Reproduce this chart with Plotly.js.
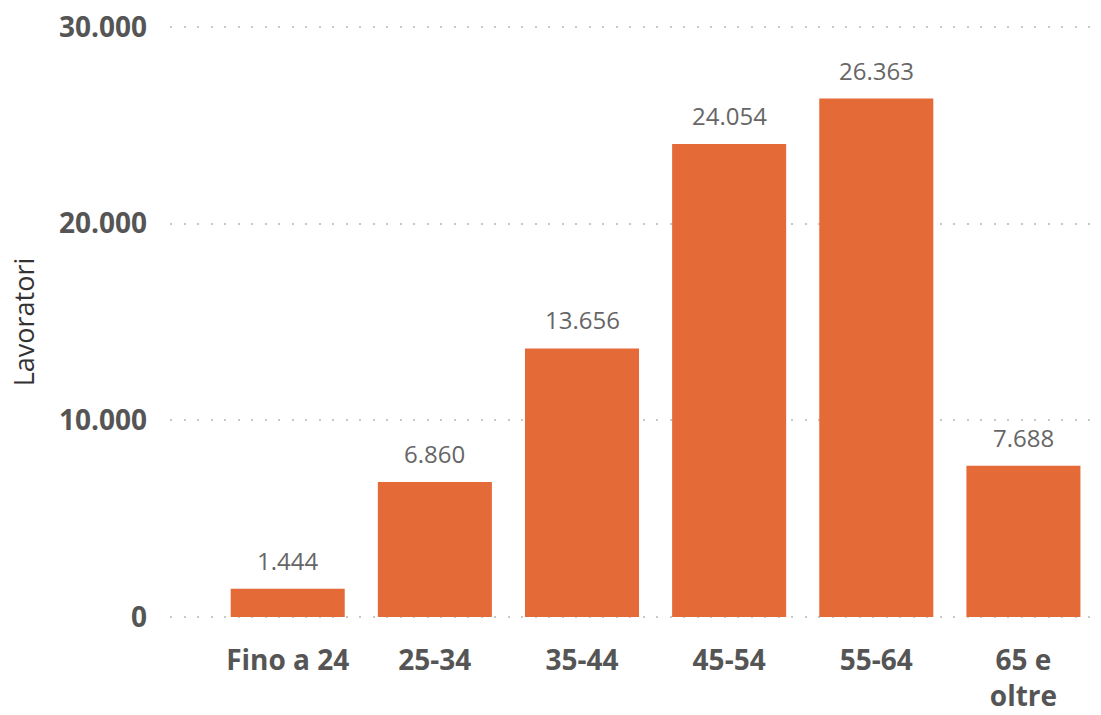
<!DOCTYPE html>
<html><head><meta charset="utf-8">
<script src="https://cdn.plot.ly/plotly-3.0.1.min.js"></script>
<style>body{margin:0;background:#fff}#c{width:1101px;height:715px}</style>
</head><body><div id="c"></div>
<script>
const categories = ["Fino a 24", "25-34", "35-44", "45-54", "55-64", "65 e<br>oltre"];
const lavoratori = [1444, 6860, 13656, 24054, 26363, 7688];
const yTicks = [0, 10000, 20000, 30000];
const yTickLabels = ["0", "10.000", "20.000", "30.000"];

const trace = {
  type: "bar",
  x: categories,
  y: lavoratori,
  marker: {color: "#E46A38"},
  hoverinfo: "none"
};

const annotations = categories.map((c, i) => ({
  x: c, y: lavoratori[i], xref: "x", yref: "y",
  text: lavoratori[i].toLocaleString("it-IT"),
  showarrow: false, yanchor: "bottom", yshift: 10,
  font: {family: "Open Sans, sans-serif", size: 24, color: "#666666"}
}));

const layout = {
  width: 1101, height: 715,
  margin: {l: 170, r: 4, t: 25, b: 96},
  paper_bgcolor: "#fff", plot_bgcolor: "#fff",
  separators: ",.",
  bargap: 0.225,
  showlegend: false,
  annotations: annotations,
  xaxis: {
    range: [-0.8, 5.5],
    showgrid: false, zeroline: false, showline: false,
    ticks: "",
    ticklabelstandoff: 22,
    tickfont: {family: "Open Sans, sans-serif", size: 28, color: "#555555", weight: 700}
  },
  yaxis: {
    range: [-100, 30100],
    tickvals: yTicks, ticktext: yTickLabels,
    showgrid: true, gridcolor: "#c8c8c8", gridwidth: 2, griddash: "2px,11.5px",
    zeroline: false, showline: false, ticks: "",
    ticklabelstandoff: 22,
    tickfont: {family: "Open Sans, sans-serif", size: 28, color: "#555555", weight: 700},
    title: {text: "Lavoratori", standoff: 16, font: {family: "Open Sans, sans-serif", size: 27, color: "#333333"}}
  }
};

Plotly.newPlot("c", [trace], layout, {displayModeBar: false, staticPlot: true});
</script>
</body></html>
